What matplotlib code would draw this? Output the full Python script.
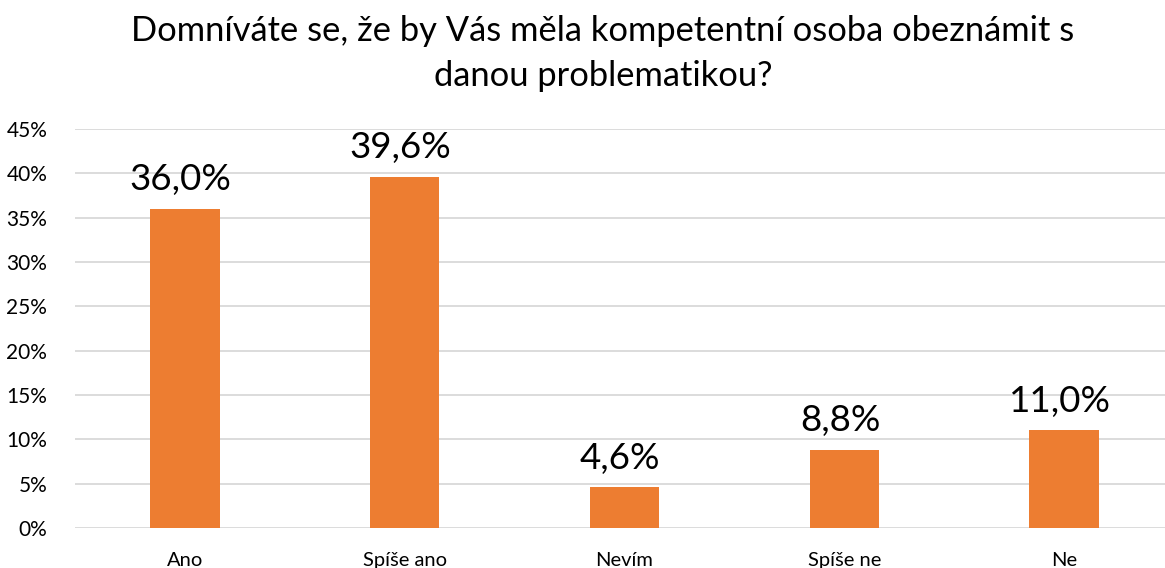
import matplotlib.pyplot as plt

categories = ['Ano', 'Spíše ano', 'Nevím', 'Spíše ne', 'Ne']
values = [36.0, 39.6, 4.6, 8.8, 11.0]
labels = ['36,0%', '39,6%', '4,6%', '8,8%', '11,0%']
y_ticks = [0, 5, 10, 15, 20, 25, 30, 35, 40, 45]

plt.rcParams['font.family'] = ['Lato', 'DejaVu Sans']

fig = plt.figure(figsize=(11.65, 5.68), dpi=100)
W, H = 1165, 568
# plot area runs past the right edge of the picture, as in the original
ax = fig.add_axes([75 / W, 40 / H, 1099 / W, 399 / H])

x = list(range(len(categories)))
ax.bar(x, values, width=0.315, color='#ED7D31', zorder=3)

for xi, v, lab in zip(x, values, labels):
    ax.annotate(lab, xy=(xi, v), xytext=(-3, 9), textcoords='offset points',
                ha='center', va='bottom', fontsize=26.5, color='black')

ax.set_xlim(-0.5, 4.5)
ax.set_ylim(0, 45)
ax.set_yticks(y_ticks)
ax.set_yticklabels([f'{t}%' for t in y_ticks], fontsize=15)
ax.set_xticks(x)
ax.set_xticklabels(categories, fontsize=14.5)
ax.tick_params(axis='x', length=0, pad=17)
ax.tick_params(axis='y', length=0, pad=20)
ax.grid(axis='y', color='#D9D9D9', linewidth=1.3, zorder=0)
for s in ax.spines.values():
    s.set_visible(False)

fig.text(603 / W, 1 - 31 / H, 'Domníváte se, že by Vás měla kompetentní osoba obeznámit s',
         ha='center', va='center', fontsize=24.8)
fig.text(603 / W, 1 - 76 / H, 'danou problematikou?',
         ha='center', va='center', fontsize=24.8)

fig.savefig('out.png', dpi=100)
plt.close()
